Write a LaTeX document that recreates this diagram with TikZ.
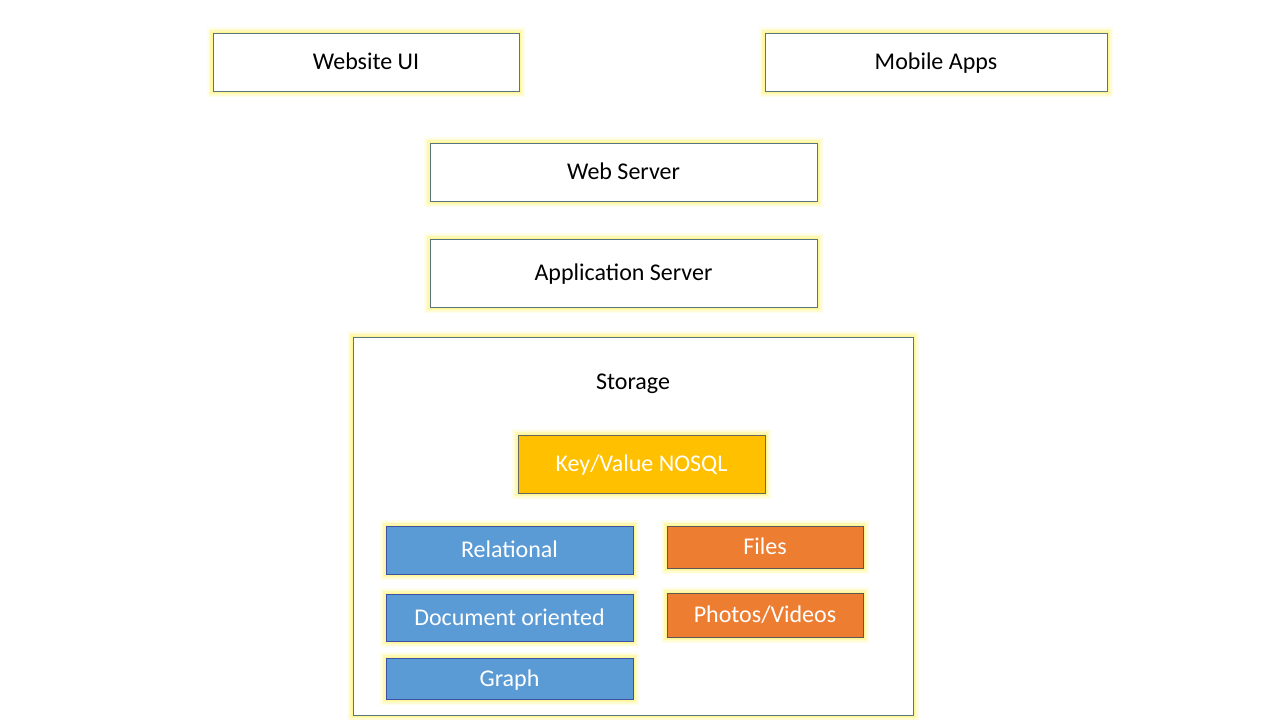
\documentclass[tikz,border=0pt]{standalone}
\usepackage{fontspec}
\setmainfont{Carlito}
\definecolor{bordergray}{HTML}{5A7480}
\definecolor{kvfill}{HTML}{FFC000}
\definecolor{blfill}{HTML}{5B9BD5}
\definecolor{orfill}{HTML}{ED7D31}
\definecolor{glowc}{HTML}{FFF36A}
\tikzset{
  glow/.style={
    preaction={draw=glowc, line width=12pt, opacity=0.12},
    preaction={draw=glowc, line width=9pt, opacity=0.2},
    preaction={draw=glowc, line width=6pt, opacity=0.3},
    preaction={draw=glowc, line width=3pt, opacity=0.4}},
  lbl/.style={font=\fontsize{24}{28}\selectfont, text height=15.5pt, text depth=0pt},
  box/.style={glow, lbl, draw=bordergray, line width=0.8pt, rectangle, inner sep=0pt},
  wbox/.style={box, fill=white, text=black},
  kvbox/.style={box, fill=kvfill, text=white, draw=gray!80!black},
  blbox/.style={box, fill=blfill, text=white, draw=bordergray!70!blue},
  orbox/.style={box, fill=orfill, text=white, draw=gray!70!black},
}
\begin{document}
\begin{tikzpicture}[x=1pt,y=-1pt]
\useasboundingbox (0,0) rectangle (1280,720);
\fill[white] (0,0) rectangle (1280,720);
\node[wbox, minimum width=306pt, minimum height=58pt] (web) at (366,62) {Website UI};
\node[wbox, minimum width=342pt, minimum height=58pt] (mob) at (936,62) {Mobile Apps};
\node[wbox, minimum width=387pt, minimum height=58pt] (ws) at (623.5,172) {Web Server};
\node[wbox, minimum width=387pt, minimum height=68pt] (as) at (623.5,273) {Application Server};
\node[wbox, minimum width=560pt, minimum height=378pt] (st) at (633,526) {};
\node[lbl] (stl) at (633,382) {Storage};
\node[kvbox, minimum width=247pt, minimum height=58pt] (kv) at (641.5,464) {Key/Value NOSQL};
\node[blbox, minimum width=247pt, minimum height=48pt] (rel) at (509.5,550) {Relational};
\node[blbox, minimum width=247pt, minimum height=47pt] (doc) at (509.5,617.5) {Document oriented};
\node[blbox, minimum width=247pt, minimum height=41pt] (gr) at (509.5,678.5) {Graph};
\node[orbox, minimum width=196pt, minimum height=42pt] (fi) at (765,547) {Files};
\node[orbox, minimum width=196pt, minimum height=44pt] (ph) at (765,615) {Photos/Videos};
\end{tikzpicture}
\end{document}
